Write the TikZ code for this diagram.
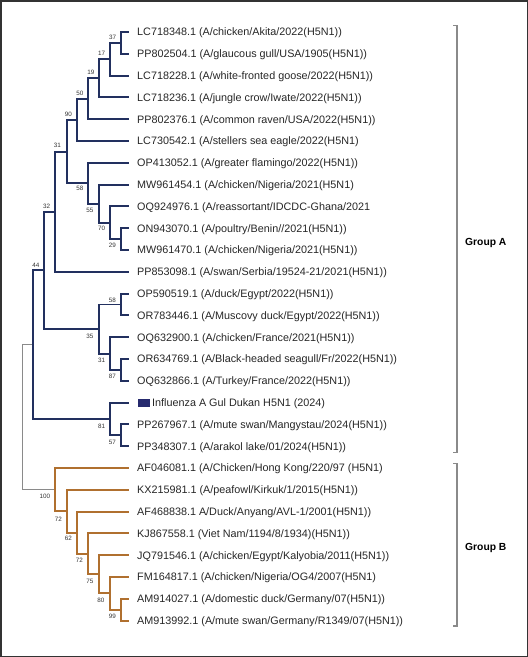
\documentclass[tikz,border=0pt]{standalone}
\usepackage{fontspec}
\setmainfont{Liberation Sans}
\definecolor{navy}{HTML}{22305F}
\definecolor{brn}{HTML}{B0702F}
\definecolor{gry}{HTML}{8A8A8A}
\definecolor{sqc}{HTML}{262A6E}
\begin{document}
\begin{tikzpicture}[x=1pt,y=-1pt,
  ga/.style={draw=navy,line width=1.9pt},
  gb/.style={draw=brn,line width=1.9pt},
  gr/.style={draw=gry,line width=1pt},
  lab/.style={inner sep=0pt,anchor=base west,font=\fontsize{10.8}{12}\selectfont,text=black!85},
  bs/.style={inner sep=0pt,font=\fontsize{6.3}{7}\selectfont,text=black!80},
  brk/.style={draw=gry,line width=1.4pt},
  grp/.style={inner sep=0pt,anchor=west,font=\fontsize{10.3}{12}\selectfont\bfseries}]
\useasboundingbox (0,0) rectangle (528,657);
\draw[line width=1.5pt,draw=black!80] (0.75,0.75) rectangle (527.25,656.25);
% leaves
\foreach \i/\yy in {1/32.0,2/53.8,3/75.6,4/97.4,5/119.2,6/141.0,7/162.8,8/184.6,9/206.4,10/228.2,11/250.0,12/271.8,13/293.6,14/315.4,15/337.2,16/359.0,17/380.8,18/402.6,19/424.4,20/446.2,21/468.0,22/489.8,23/511.6,24/533.4,25/555.2,26/577.0,27/598.8,28/620.6}
  \coordinate (l\i) at (128.5,\yy);
% internal nodes
\coordinate (n37) at (120.7,42.9);
\coordinate (n17) at (110,59.25);
\coordinate (n19) at (99,78.3);
\coordinate (n50) at (87.7,98.8);
\coordinate (n90) at (77.3,119.9);
\coordinate (n29) at (120.7,239.1);
\coordinate (n70) at (110,222.75);
\coordinate (n55) at (99,203.7);
\coordinate (n58) at (87.7,183.2);
\coordinate (n31) at (66.7,151.6);
\coordinate (n32) at (55,211.7);
\coordinate (n58b) at (120.7,304.5);
\coordinate (n87) at (120.7,369.9);
\coordinate (n31b) at (110,353.6);
\coordinate (n35) at (99,329.0);
\coordinate (n44) at (44.3,270.4);
\coordinate (n57) at (120.7,435.3);
\coordinate (n81) at (110,419.0);
\coordinate (nGA) at (33.3,344.7);
\coordinate (n99) at (120.7,609.7);
\coordinate (n80) at (110,593.35);
\coordinate (n75) at (99,574.3);
\coordinate (n72b) at (88.3,553.9);
\coordinate (n62) at (77.3,532.7);
\coordinate (n72a) at (66.7,511.3);
\coordinate (n100) at (55,489.7);
\coordinate (root) at (22.3,417.2);
% root branches
\draw[gr] (root) |- (nGA) (root) |- (n100);
% group A
\draw[ga] (n37) |- (l1) (n37) |- (l2);
\draw[ga] (n17) |- (n37) (n17) |- (l3);
\draw[ga] (n19) |- (n17) (n19) |- (l4);
\draw[ga] (n50) |- (n19) (n50) |- (l5);
\draw[ga] (n90) |- (n50) (n90) |- (l6);
\draw[ga] (n29) |- (l10) (n29) |- (l11);
\draw[ga] (n70) |- (l9) (n70) |- (n29);
\draw[ga] (n55) |- (l8) (n55) |- (n70);
\draw[ga] (n58) |- (l7) (n58) |- (n55);
\draw[ga] (n31) |- (n90) (n31) |- (n58);
\draw[ga] (n32) |- (n31) (n32) |- (l12);
\draw[ga] (n58b) |- (l13) (n58b) |- (l14);
\draw[ga] (n87) |- (l16) (n87) |- (l17);
\draw[ga] (n31b) |- (l15) (n31b) |- (n87);
\draw[ga] (n35) |- (n58b) (n35) |- (n31b);
\draw[ga] (n44) |- (n32) (n44) |- (n35);
\draw[ga] (n57) |- (l19) (n57) |- (l20);
\draw[ga] (n81) |- (l18) (n81) |- (n57);
\draw[ga] (nGA) |- (n44) (nGA) |- (n81);
% group B
\draw[gb] (n99) |- (l27) (n99) |- (l28);
\draw[gb] (n80) |- (l26) (n80) |- (n99);
\draw[gb] (n75) |- (l25) (n75) |- (n80);
\draw[gb] (n72b) |- (l24) (n72b) |- (n75);
\draw[gb] (n62) |- (l23) (n62) |- (n72b);
\draw[gb] (n72a) |- (l22) (n72a) |- (n62);
\draw[gb] (n100) |- (l21) (n100) |- (n72a);
% bootstrap labels (above = top child, below = bottom child)
\node[bs] (b37) at ([xshift=-8pt,yshift=5.5pt]n37) {37};
\node[bs] (b17) at ([xshift=-8.3pt,yshift=5.8pt]n17) {17};
\node[bs] (b19) at ([xshift=-8pt,yshift=5.6pt]n19) {19};
\node[bs] (b50) at ([xshift=-7.7pt,yshift=5.5pt]n50) {50};
\node[bs] (b90) at ([xshift=-9pt,yshift=5.6pt]n90) {90};
\node[bs] (b31) at ([xshift=-9.4pt,yshift=5.9pt]n31) {31};
\node[bs] (b32) at ([xshift=-8.3pt,yshift=5.7pt]n32) {32};
\node[bs] (b44) at ([xshift=-8.3pt,yshift=4.7pt]n44) {44};
\node[bs] (b58) at ([xshift=-7.7pt,yshift=-5.1pt]n58) {58};
\node[bs] (b55) at ([xshift=-9pt,yshift=-6.3pt]n55) {55};
\node[bs] (b70) at ([xshift=-8.3pt,yshift=-6pt]n70) {70};
\node[bs] (b29) at ([xshift=-8.4pt,yshift=-6.2pt]n29) {29};
\node[bs] (b58b) at ([xshift=-8.4pt,yshift=4.5pt]n58b) {58};
\node[bs] (b35) at ([xshift=-9pt,yshift=-7pt]n35) {35};
\node[bs] (b31b) at ([xshift=-8.3pt,yshift=-6.4pt]n31b) {31};
\node[bs] (b87) at ([xshift=-8.4pt,yshift=-6.8pt]n87) {87};
\node[bs] (b81) at ([xshift=-8.3pt,yshift=-7pt]n81) {81};
\node[bs] (b57) at ([xshift=-8.4pt,yshift=-7pt]n57) {57};
\node[bs] (b100) at ([xshift=-10pt,yshift=-7pt]n100) {100};
\node[bs] (b72a) at ([xshift=-8.4pt,yshift=-7.7pt]n72a) {72};
\node[bs] (b62) at ([xshift=-9pt,yshift=-5.6pt]n62) {62};
\node[bs] (b72b) at ([xshift=-9pt,yshift=-6.8pt]n72b) {72};
\node[bs] (b75) at ([xshift=-9pt,yshift=-6.7pt]n75) {75};
\node[bs] (b80) at ([xshift=-9pt,yshift=-7.3pt]n80) {80};
\node[bs] (b99) at ([xshift=-8.4pt,yshift=-6.3pt]n99) {99};
% leaf texts
\node[lab] (t1) at ([xshift=8.5pt,yshift=-3.9pt]l1) {LC718348.1 (A/chicken/Akita/2022(H5N1))};
\node[lab] (t2) at ([xshift=8.5pt,yshift=-3.9pt]l2) {PP802504.1 (A/glaucous gull/USA/1905(H5N1))};
\node[lab] (t3) at ([xshift=8.5pt,yshift=-3.9pt]l3) {LC718228.1 (A/white-fronted goose/2022(H5N1))};
\node[lab] (t4) at ([xshift=8.5pt,yshift=-3.9pt]l4) {LC718236.1 (A/jungle crow/Iwate/2022(H5N1))};
\node[lab] (t5) at ([xshift=8.5pt,yshift=-3.9pt]l5) {PP802376.1 (A/common raven/USA/2022(H5N1))};
\node[lab] (t6) at ([xshift=8.5pt,yshift=-3.9pt]l6) {LC730542.1 (A/stellers sea eagle/2022(H5N1)};
\node[lab] (t7) at ([xshift=8.5pt,yshift=-3.9pt]l7) {OP413052.1 (A/greater flamingo/2022(H5N1))};
\node[lab] (t8) at ([xshift=8.5pt,yshift=-3.9pt]l8) {MW961454.1 (A/chicken/Nigeria/2021(H5N1)};
\node[lab] (t9) at ([xshift=8.5pt,yshift=-3.9pt]l9) {OQ924976.1 (A/reassortant/IDCDC-Ghana/2021};
\node[lab] (t10) at ([xshift=8.5pt,yshift=-3.9pt]l10) {ON943070.1 (A/poultry/Benin//2021(H5N1))};
\node[lab] (t11) at ([xshift=8.5pt,yshift=-3.9pt]l11) {MW961470.1 (A/chicken/Nigeria/2021(H5N1))};
\node[lab] (t12) at ([xshift=8.5pt,yshift=-3.9pt]l12) {PP853098.1 (A/swan/Serbia/19524-21/2021(H5N1))};
\node[lab] (t13) at ([xshift=8.5pt,yshift=-3.9pt]l13) {OP590519.1 (A/duck/Egypt/2022(H5N1))};
\node[lab] (t14) at ([xshift=8.5pt,yshift=-3.9pt]l14) {OR783446.1 (A/Muscovy duck/Egypt/2022(H5N1))};
\node[lab] (t15) at ([xshift=8.5pt,yshift=-3.9pt]l15) {OQ632900.1 (A/chicken/France/2021(H5N1))};
\node[lab] (t16) at ([xshift=8.5pt,yshift=-3.9pt]l16) {OR634769.1 (A/Black-headed seagull/Fr/2022(H5N1))};
\node[lab] (t17) at ([xshift=8.5pt,yshift=-3.9pt]l17) {OQ632866.1 (A/Turkey/France/2022(H5N1))};
\node[fill=sqc,inner sep=0pt,minimum width=11.5pt,minimum height=8pt,anchor=west] (sq) at ([xshift=9.5pt]l18) {};
\node[lab] (t18) at ([xshift=23.5pt,yshift=-3.9pt]l18) {Influenza A Gul Dukan H5N1 (2024)};
\node[lab] (t19) at ([xshift=8.5pt,yshift=-3.9pt]l19) {PP267967.1 (A/mute swan/Mangystau/2024(H5N1))};
\node[lab] (t20) at ([xshift=8.5pt,yshift=-3.9pt]l20) {PP348307.1 (A/arakol lake/01/2024(H5N1))};
\node[lab] (t21) at ([xshift=8.5pt,yshift=-3.9pt]l21) {AF046081.1 (A/Chicken/Hong Kong/220/97 (H5N1)};
\node[lab] (t22) at ([xshift=8.5pt,yshift=-3.9pt]l22) {KX215981.1 (A/peafowl/Kirkuk/1/2015(H5N1))};
\node[lab] (t23) at ([xshift=8.5pt,yshift=-3.9pt]l23) {AF468838.1 A/Duck/Anyang/AVL-1/2001(H5N1))};
\node[lab] (t24) at ([xshift=8.5pt,yshift=-3.9pt]l24) {KJ867558.1 (Viet Nam/1194/8/1934)(H5N1))};
\node[lab] (t25) at ([xshift=8.5pt,yshift=-3.9pt]l25) {JQ791546.1 (A/chicken/Egypt/Kalyobia/2011(H5N1))};
\node[lab] (t26) at ([xshift=8.5pt,yshift=-3.9pt]l26) {FM164817.1 (A/chicken/Nigeria/OG4/2007(H5N1)};
\node[lab] (t27) at ([xshift=8.5pt,yshift=-3.9pt]l27) {AM914027.1 (A/domestic duck/Germany/07(H5N1))};
\node[lab] (t28) at ([xshift=8.5pt,yshift=-3.9pt]l28) {AM913992.1 (A/mute swan/Germany/R1349/07(H5N1))};
% brackets
\coordinate (ba1) at (453.3,25.3);
\coordinate (ba2) at (453.3,452.3);
\coordinate (bb1) at (453.3,463.3);
\coordinate (bb2) at (453.3,626);
\draw[brk] (ba1) -- ++(3.6,0) |- (ba2);
\draw[brk] (bb1) -- ++(3.6,0) |- (bb2);
\node[grp] (gA) at (465,243) {Group A};
\node[grp] (gB) at (465,547.5) {Group B};
\end{tikzpicture}
\end{document}
